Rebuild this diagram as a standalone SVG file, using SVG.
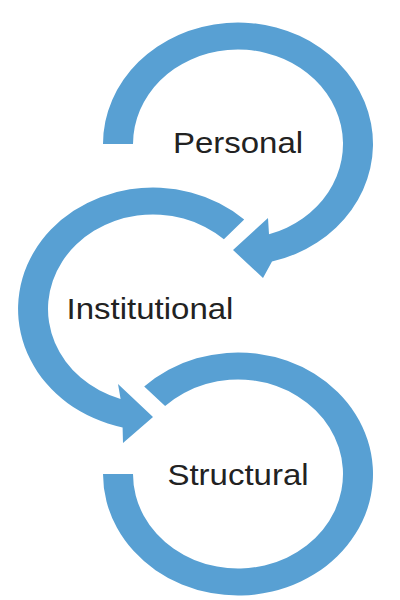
<svg xmlns="http://www.w3.org/2000/svg" width="400" height="600" viewBox="0 0 400 600">
  <style>
    .ring { fill: #58A0D3; stroke: none; }
    .label { font-family: "Liberation Sans", Arial, sans-serif; font-size: 33px; fill: #222222; text-anchor: middle; }
  </style>
  <rect width="400" height="600" fill="#ffffff"/>
  <g id="connectors">
    <!-- Personal loop: from left, clockwise, arrow at lower right -->
    <path class="ring" d="M103,144 A135,121.5 0 1 1 272,261.6 L263,278 L233,250 L268,218 L269,234.3 A105,94.5 0 1 0 133,144 Z"/>
    <!-- Institutional loop: from upper right, counter-clockwise, arrow at bottom -->
    <path class="ring" d="M244.2,219.4 A135,121.5 0 1 0 122.6,427.4 L123,443 L153,417 L118,384 L120.6,398.9 A105,94.5 0 1 1 223.9,239.3 Z"/>
    <!-- Structural loop: from upper left, clockwise, ends at left -->
    <path class="ring" d="M144.2,386.6 A135,121.5 0 1 1 103,474 L133,474 A105,94.5 0 1 0 165.1,406 Z"/>
  </g>
  <g id="node-personal">
    <text class="label" transform="translate(238,153) scale(1,0.9)">Personal</text>
  </g>
  <g id="node-institutional">
    <text class="label" transform="translate(150,319) scale(1,0.9)">Institutional</text>
  </g>
  <g id="node-structural">
    <text class="label" transform="translate(238,485) scale(1,0.9)">Structural</text>
  </g>
</svg>
